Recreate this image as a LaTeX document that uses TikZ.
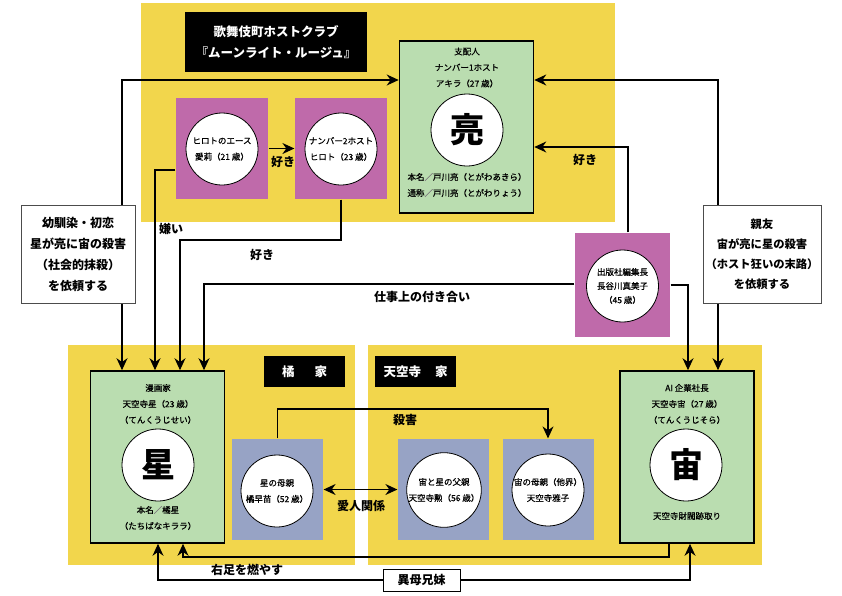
\documentclass[tikz,border=0pt]{standalone}
\usepackage{fontspec}
\setmainfont{Noto Sans CJK JP}
\newfontfamily\medfont{Noto Sans CJK JP}[FakeBold=0.6]
\usetikzlibrary{arrows.meta}
\definecolor{bandyellow}{RGB}{242,214,76}
\definecolor{boxgreen}{RGB}{186,221,176}
\definecolor{boxpink}{RGB}{191,106,170}
\definecolor{boxslate}{RGB}{151,163,197}
\newcommand{\sep}{{\color{gray}／}}
\begin{document}
\begin{tikzpicture}[x=1pt, y=-1pt, line width=1.2pt, >={Stealth[length=12pt,width=11pt]},
    title/.style = {fill=black, text=white, align=center, inner sep=0pt, font=\fontsize{12.5}{21}\selectfont\bfseries},
    person/.style = {draw=black, line width=1.6pt, fill=boxgreen, minimum width=134pt, minimum height=172pt, inner sep=0pt},
    pinkbox/.style = {fill=boxpink, minimum width=92pt, minimum height=101pt, inner sep=0pt},
    slatebox/.style = {fill=boxslate, minimum width=91pt, minimum height=101pt, inner sep=0pt},
    face/.style = {draw=black, line width=0.8pt, circle, fill=white, minimum size=72pt, inner sep=0pt, align=center, font=\medfont\fontsize{8.5}{16}\selectfont},
    big/.style = {font=\fontsize{34}{34}\selectfont\bfseries},
    small/.style = {align=center, inner sep=0pt, font=\medfont\fontsize{8.5}{16}\selectfont},
    note/.style = {draw=black!70, line width=0.8pt, fill=white, align=center, inner sep=0pt, minimum width=114pt, minimum height=98pt, font=\fontsize{12}{21}\selectfont\bfseries},
    rel/.style = {inner sep=0pt, font=\fontsize{12}{12}\selectfont\bfseries}]
    \useasboundingbox (0,0) rectangle (842,595);

    % yellow areas
    \fill[bandyellow] (141,3) rectangle (615,222);
    \fill[bandyellow] (68,345) rectangle (355,565);
    \fill[bandyellow] (368,345) rectangle (762,565);

    \node[title, minimum width=182pt, minimum height=60pt] (club) at (276,42) {歌舞伎町ホストクラブ\\『ムーンライト・ルージュ』};
    \node[title, minimum width=81pt, minimum height=31pt] (tachibana) at (304.5,371.5) {橘\hspace{20pt}家};
    \node[title, minimum width=81pt, minimum height=31pt] (tenkuji) at (415.5,371.5) {天空寺\hspace{14pt}家};

    % club
    \node[person] (akira) at (466.5,127) {};
    \node[small] (akiraT) at (467,67.5) {支配人\\ナンバー1ホスト\\アキラ（27 歳）};
    \node[face, big] (akiraC) at (467,130) {亮};
    \node[small] (akiraB) at (467,185) {本名\sep 戸川亮（とがわあきら）\\通称\sep 戸川亮（とがわりょう）};

    \node[pinkbox] (airi) at (222,148.5) {};
    \node[face] (airiC) at (222,149) {ヒロトのエース\\愛莉（21 歳）};
    \node[pinkbox] (hiroto) at (341,148.5) {};
    \node[face] (hirotoC) at (341,149) {ナンバー2ホスト\\ヒロト（23 歳）};

    \node[pinkbox, minimum width=95pt, minimum height=104pt] (mamiko) at (622.5,285) {};
    \node[face, font=\medfont\fontsize{8.5}{14}\selectfont] (mamikoC) at (622.5,286) {出版社編集長\\長谷川真美子\\（45 歳）};

    % tachibana
    \node[person] (kirara) at (157.5,457) {};
    \node[small] (kiraraT) at (158,404) {漫画家\\天空寺星（23 歳）\\（てんくうじせい）};
    \node[face, big] (kiraraC) at (158,465) {星};
    \node[small] (kiraraB) at (158,518) {本名\sep 橘星\\（たちばなキララ）};

    \node[slatebox] (sanae) at (277.5,489.5) {};
    \node[face] (sanaeC) at (277,491) {星の母親\\橘早苗（52 歳）};

    % tenkuji
    \node[slatebox] (isao) at (443.5,489.5) {};
    \node[face] (isaoC) at (444,490) {宙と星の父親\\天空寺勲（56 歳）};
    \node[slatebox] (masako) at (548.5,489.5) {};
    \node[face] (masakoC) at (548,490) {宙の母親（他界）\\天空寺雅子};

    \node[person] (sora) at (687,457) {};
    \node[small] (soraT) at (687,404) {AI 企業社長\\天空寺宙（27 歳）\\（てんくうじそら）};
    \node[face, big] (soraC) at (686,465) {宙};
    \node[small] (soraB) at (687,516) {天空寺財閥跡取り};

    % bends
    \coordinate (tl) at (122,80);
    \coordinate (tr) at (718,80);
    \coordinate (kl) at (155,170);
    \coordinate (hl) at (180,240);
    \coordinate (sukiR) at (628,147);
    \coordinate (wk) at (204,284);
    \coordinate (mr) at (688,285);
    \coordinate (kill) at (548,409);
    \coordinate (fr) at (669,557);
    \coordinate (fl) at (183,557);
    \coordinate (il) at (158,580);
    \coordinate (ir) at (690,580);

    \draw[<->] (akira.west |- tl) -- (tl) -- (tl |- kirara.north);
    \draw[<->] (akira.east |- tr) -- (tr) -- (tr |- sora.north);
    \draw[->] (airi.west |- kl) -- (kl) -- (kl |- kirara.north);
    \draw[->] (airi) -- (hiroto);
    \draw[->] (hiroto.south) |- (hl) -- (hl |- kirara.north);
    \draw[->] (mamiko.north -| sukiR) -- (sukiR) -- (akira.east |- sukiR);
    \draw[->] (mamiko.west |- wk) -- (wk) -- (wk |- kirara.north);
    \draw[->] (mamiko.east |- mr) -- (mr) -- (mr |- sora.north);
    \draw[->] (sanae.north) |- (kill) -- (masako.north -| kill);
    \draw[<->] (sanae) -- (isao);
    \draw[->] (sora.south -| fr) -- (fr) -- (fl) -- (fl |- kirara.south);
    \draw[<->] (kirara.south -| il) -- (il) -- (ir) -- (sora.south -| ir);

    % labels
    \node[rel] (suki1) at (283,162) {好き};
    \node[rel] (kirai) at (171,229) {嫌い};
    \node[rel] (suki2) at (262,255) {好き};
    \node[rel] (suki3) at (585,160) {好き};
    \node[rel] (shigoto) at (422,297) {仕事上の付き合い};
    \node[rel] (satsugai) at (405,420) {殺害};
    \node[rel] (aijin) at (361,506) {愛人関係};
    \node[rel] (migiashi) at (247,570) {右足を燃やす};

    \node[note] (leftnote) at (78,254) {幼馴染・初恋\\星が亮に宙の殺害\\（社会的抹殺）\\を依頼する};
    \node[note, minimum width=118pt, font=\fontsize{11.3}{20}\selectfont\bfseries] (rightnote) at (762,254.5) {親友\\宙が亮に星の殺害\\（ホスト狂いの末路）\\を依頼する};
    \node[draw=black, line width=1pt, fill=white, minimum width=77pt, minimum height=22pt, inner sep=0pt, font=\fontsize{12}{12}\selectfont\bfseries] (kyodai) at (421.5,580) {異母兄妹};
\end{tikzpicture}
\end{document}
